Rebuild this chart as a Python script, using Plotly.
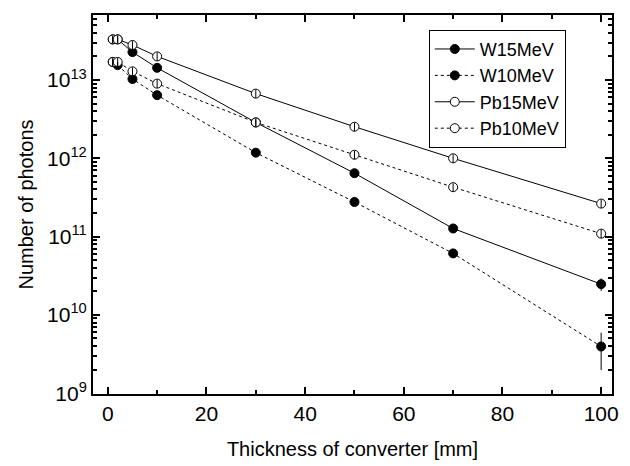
import plotly.graph_objects as go

thickness = [1, 2, 5, 10, 30, 50, 70, 100]

w15 = [3.3e13, 3.3e13, 2.27e13, 1.43e13, 2.87e12, 6.45e11, 1.27e11, 2.47e10]
w10 = [1.7e13, 1.55e13, 1.03e13, 6.4e12, 1.18e12, 2.77e11, 6.1e10, 3.95e9]
pb15 = [3.3e13, 3.3e13, 2.8e13, 2.0e13, 6.7e12, 2.53e12, 1.0e12, 2.64e11]
pb10 = [1.7e13, 1.7e13, 1.29e13, 8.98e12, 2.87e12, 1.11e12, 4.28e11, 1.09e11]

# relative error (fraction of value)
w15_err = [0.1, 0.1, 0.1, 0.1, 0.1, 0.1, 0.1, 0.18]
w10_err = [0.1, 0.1, 0.1, 0.1, 0.1, 0.1, 0.1, 0.5]
pb15_err = [0.12] * 8
pb10_err = [0.12] * 8

names = ["W15MeV", "W10MeV", "Pb15MeV", "Pb10MeV"]

y_tickvals = [1e9, 1e10, 1e11, 1e12, 1e13]
y_ticktext = ["10<sup>9</sup>", "10<sup>10</sup>", "10<sup>11</sup>", "10<sup>12</sup>", "10<sup>13</sup>"]
x_tickvals = [0, 20, 40, 60, 80, 100]
x_minor = [10, 30, 50, 70, 90]

minor_y = [k * 10 ** d for d in range(9, 14) for k in range(2, 10)]

series = [
    (w15, w15_err, names[0], "solid", "black"),
    (w10, w10_err, names[1], "dot", "black"),
    (pb15, pb15_err, names[2], "solid", "white"),
    (pb10, pb10_err, names[3], "dot", "white"),
]

fig = go.Figure()
for vals, rel, name, dash, fill in series:
    fig.add_trace(go.Scatter(
        x=thickness, y=vals, name=name, mode="lines+markers",
        line=dict(color="black", width=1, dash=dash),
        marker=dict(symbol="circle", size=9, color=fill,
                    line=dict(color="black", width=1)),
    ))
# error bars drawn on top of the markers
for vals, rel, name, dash, fill in series:
    fig.add_trace(go.Scatter(
        x=thickness, y=vals, name=name, mode="markers", showlegend=False,
        hoverinfo="skip",
        marker=dict(size=1, opacity=0),
        error_y=dict(type="data", symmetric=True,
                     array=[v * r for v, r in zip(vals, rel)],
                     color="black", thickness=1, width=0),
    ))

font = "Liberation Sans, Arial, sans-serif"
# page body adds an 8px offset, so the figure is 8px smaller and margins shifted
fig.update_layout(
    width=622, height=458,
    paper_bgcolor="white", plot_bgcolor="white",
    margin=dict(l=85, r=18, t=5, b=72),
    font=dict(family=font, size=21, color="black"),
    showlegend=True,
    legend=dict(x=0.647, y=0.961, xanchor="left", yanchor="top",
                bordercolor="black", borderwidth=1, bgcolor="white",
                font=dict(size=18), tracegroupgap=0, itemwidth=40),
    xaxis=dict(
        range=[-3, 102.2], tickmode="array", tickvals=x_tickvals,
        ticks="inside", ticklen=7, tickwidth=1.5, tickcolor="black",
        showline=True, linecolor="black", linewidth=2, mirror="ticks",
        showgrid=False, zeroline=False,
        tickfont=dict(size=21),
        minor=dict(tickmode="array", tickvals=x_minor,
                   ticks="inside", ticklen=4, tickwidth=1.5, tickcolor="black"),
        title=dict(text="Thickness of converter [mm]", standoff=18,
                   font=dict(size=20)),
    ),
    yaxis=dict(
        type="log", range=[8.99, 13.83],
        tickmode="array", tickvals=y_tickvals, ticktext=y_ticktext,
        ticks="inside", ticklen=7, tickwidth=1.5, tickcolor="black",
        showline=True, linecolor="black", linewidth=2, mirror="ticks",
        showgrid=False, zeroline=False,
        tickfont=dict(size=21),
        minor=dict(tickmode="array", tickvals=minor_y,
                   ticks="inside", ticklen=4, tickwidth=1.5, tickcolor="black"),
        title=dict(text="Number of photons", standoff=8,
                   font=dict(size=20)),
    ),
)

fig.write_html("out.html")
